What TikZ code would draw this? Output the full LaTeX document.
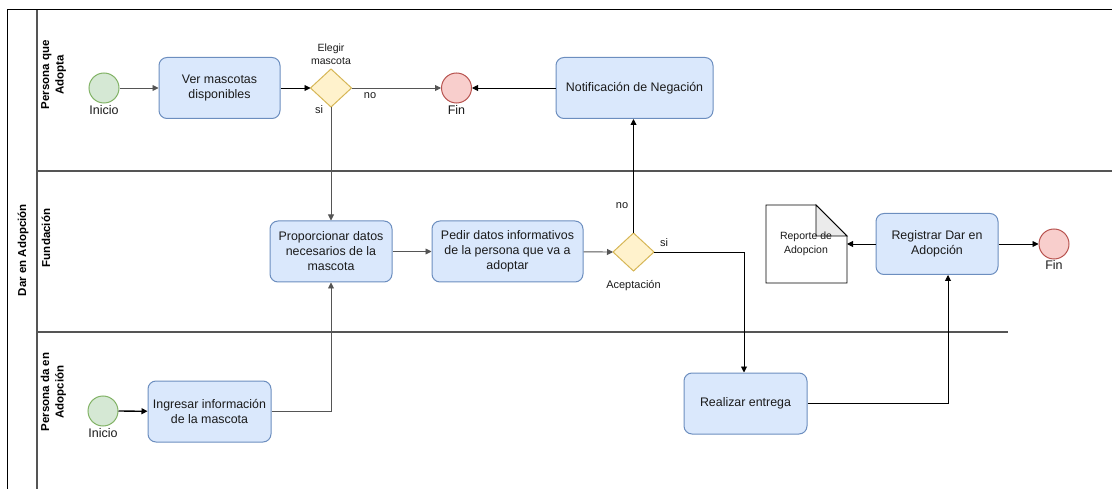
\documentclass[tikz,border=0pt]{standalone}
\usepackage{fontspec}
\setmainfont{Liberation Sans}
\usetikzlibrary{arrows.meta}
\definecolor{taskfill}{HTML}{DAE8FC}
\definecolor{taskline}{HTML}{6C8EBF}
\definecolor{startfill}{HTML}{D5E8D4}
\definecolor{startline}{HTML}{82B366}
\definecolor{endfill}{HTML}{F8CECC}
\definecolor{endline}{HTML}{B85450}
\definecolor{gatefill}{HTML}{FFF2CC}
\definecolor{gateline}{HTML}{D6B656}
\definecolor{laneline}{HTML}{555555}
\definecolor{txt}{HTML}{1A1A1A}
\tikzset{
  task/.style={draw=taskline, fill=taskfill, rounded corners=8pt, line width=1pt,
    minimum width=#1, minimum height=61pt, inner sep=1pt, align=center,
    font=\fontsize{12.4}{15}\selectfont, text=txt},
  task/.default=122pt,
  startev/.style={circle, draw=startline, fill=startfill, line width=1pt, minimum size=30pt, inner sep=0pt},
  endev/.style={circle, draw=endline, fill=endfill, line width=1pt, minimum size=30pt, inner sep=0pt},
  gate/.style={draw=gateline, fill=gatefill, line width=1pt},
  lbl/.style={font=\fontsize{12.5}{14}\selectfont, text=txt, inner sep=0pt},
  small/.style={font=\fontsize{11}{13.5}\selectfont, text=txt, inner sep=0pt, align=center},
  flow/.style={-{Triangle[length=6pt,width=6pt]}, line width=0.9pt, draw=black},
  gflow/.style={flow, draw=laneline},
  plain/.style={line width=0.9pt},
  lanetitle/.style={rotate=90, font=\bfseries\fontsize{11.5}{14.5}\selectfont, align=center, inner sep=0pt},
}
\begin{document}
\begin{tikzpicture}[x=1pt, y=-1pt]
\useasboundingbox (0,0) rectangle (1112,489);

% pool and lanes
\draw[line width=1pt] (7,489) -- (7,10) -- (1112,10);
\draw[laneline, line width=1.2pt] (37,10) -- (37,489);
\draw[laneline, line width=1.2pt] (37,171) -- (1112,171);
\draw[laneline, line width=1.2pt] (37,332) -- (1008,332);
\node[lanetitle] (pool) at (23,250) {Dar en Adopción};
\node[lanetitle] (lane1) at (53.5,75) {Persona que\\Adopta};
\node[lanetitle] (lane2) at (46,238) {Fundación};
\node[lanetitle] (lane3) at (53.5,392) {Persona da en\\Adopción};

% lane: Persona que Adopta
\node[startev] (ini1) at (104,88) {};
\node[lbl, anchor=north] (ini1l) at (104,105) {Inicio};
\node[task=121pt] (ver) at (219.5,88) {Ver mascotas\\disponibles};
\draw[gate] (331,69) -- (351.5,88) -- (331,107) -- (310.5,88) -- cycle;
\coordinate (gate1) at (331,88);
\coordinate (gate1n) at (331,69);
\coordinate (gate1e) at (351.5,88);
\coordinate (gate1s) at (331,107);
\coordinate (gate1w) at (310.5,88);
\node[small, font=\fontsize{10.5}{13.5}\selectfont] (gate1l) at (331,54) {Elegir\\mascota};
\node[endev] (fin1) at (456.5,88) {};
\node[lbl, anchor=north] (fin1l) at (456.5,105) {Fin};
\node[task=157pt] (notif) at (634.5,88) {Notificación de Negación};

% lane: Fundación
\node[task=122pt] (prop) at (331,251.5) {Proporcionar datos\\necesarios de la\\mascota};
\node[task=151pt] (pedir) at (507.5,251.5) {Pedir datos informativos\\de la persona que va a\\adoptar};
\draw[gate] (633.5,233) -- (654,252) -- (633.5,271) -- (613,252) -- cycle;
\coordinate (gate2n) at (633.5,233);
\coordinate (gate2e) at (654,252);
\coordinate (gate2w) at (613,252);
\node[small] (gate2l) at (633.5,286) {Aceptación};
\node[task=122pt] (reg) at (937,244) {Registrar Dar en\\Adopción};
\node[endev] (fin2) at (1054,244) {};
\node[lbl, anchor=north] (fin2l) at (1054,260) {Fin};
% document: Reporte de Adopcion
\draw[plain, fill=white] (766,205) -- (816,205) -- (847,236) -- (847,283) -- (766,283) -- cycle;
\draw[plain, fill=black!8] (816,205) -- (816,236) -- (847,236) -- cycle;
\node[small, font=\fontsize{10.5}{14}\selectfont] (rep) at (806,244) {Reporte de\\Adopcion};
\coordinate (repE) at (847,244);

% lane: Persona da en Adopción
\node[startev] (ini2) at (103,411) {};
\node[lbl, anchor=north] (ini2l) at (103,428) {Inicio};
\node[task=123pt] (ing) at (209.5,411.5) {Ingresar información\\de la mascota};
\node[task=123pt] (real) at (745.5,403.5) {Realizar entrega};

% sequence flows
\draw[gflow] (ini1) -- (ver);
\draw[flow] (ver) -- (gate1w);
\draw[gflow] (gate1e) -- (fin1);
\draw[flow] (notif) -- (fin1);
\draw[gflow] (gate1s) -- (prop);
\draw[flow, line width=1.3pt] (ini2) -- (ing);
\draw[gflow] (ing.east) -| (prop.south);
\draw[gflow] (prop) -- (pedir);
\draw[gflow] (pedir) -- (gate2w);
\draw[flow] (gate2n) -- (notif.south -| gate2n);
\draw[flow] (gate2e) -| (real.north -| 744,0);
\draw[flow] (real.east) -| (reg.south -| 948,0);
\draw[flow] (reg) -- (repE);
\draw[flow] (reg) -- (fin2);

% flow labels
\node[small] (si1) at (319,110) {si};
\node[small] (no1) at (370,96) {no};
\node[small] (no2) at (622,206) {no};
\node[small] (si2) at (664,243) {si};
\end{tikzpicture}
\end{document}
